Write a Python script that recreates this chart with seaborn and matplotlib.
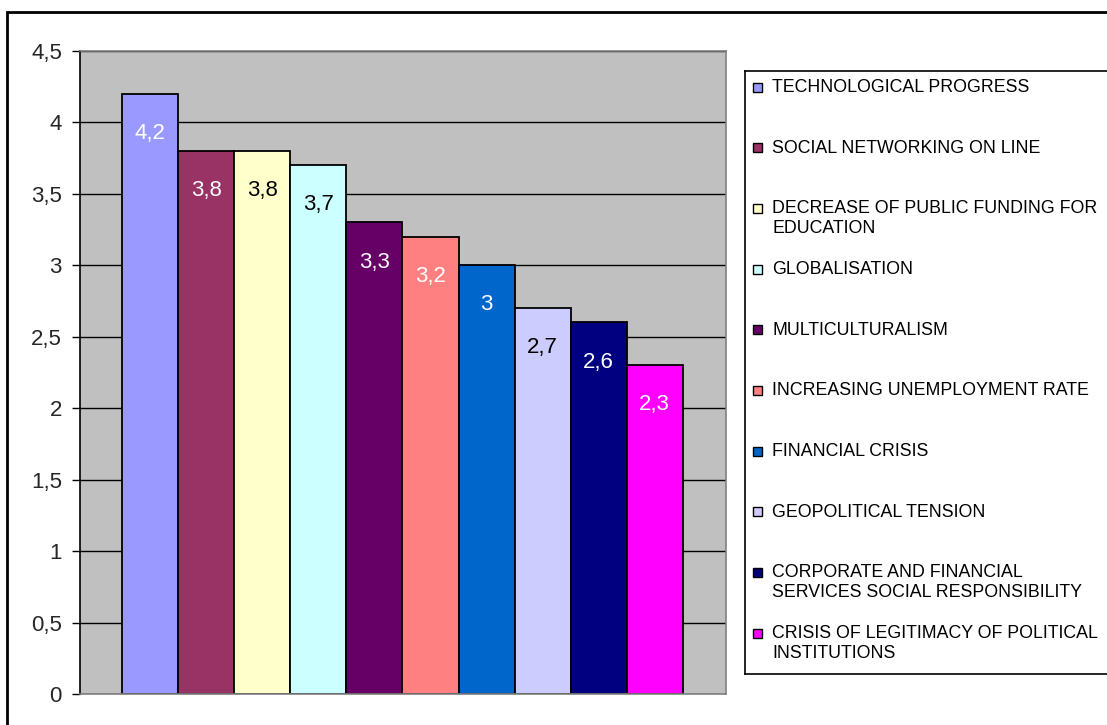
import matplotlib
matplotlib.use("Agg")
import matplotlib.pyplot as plt
import matplotlib.patches as mpatches
import seaborn as sns

# chart data
categories = [
    "TECHNOLOGICAL PROGRESS",
    "SOCIAL NETWORKING ON LINE",
    "DECREASE OF PUBLIC FUNDING FOR\nEDUCATION",
    "GLOBALISATION",
    "MULTICULTURALISM",
    "INCREASING UNEMPLOYMENT RATE",
    "FINANCIAL CRISIS",
    "GEOPOLITICAL TENSION",
    "CORPORATE AND FINANCIAL\nSERVICES SOCIAL RESPONSIBILITY",
    "CRISIS OF LEGITIMACY OF POLITICAL\nINSTITUTIONS",
]
values = [4.2, 3.8, 3.8, 3.7, 3.3, 3.2, 3.0, 2.7, 2.6, 2.3]
colors = ["#9999FF", "#993366", "#FFFFCC", "#CCFFFF", "#660066",
          "#FF8080", "#0066CC", "#CCCCFF", "#000080", "#FF00FF"]
label_colors = ["white", "white", "black", "black", "white",
                "white", "white", "black", "white", "white"]
yticks = [0, 0.5, 1, 1.5, 2, 2.5, 3, 3.5, 4, 4.5]

sns.set_style("white")
plt.rcParams["font.family"] = ["Liberation Sans", "DejaVu Sans"]

W, H = 1107, 725
fig = plt.figure(figsize=(W / 100, H / 100), dpi=100)
ax = fig.add_axes([80 / W, 1 - 694 / H, (726 - 80) / W, (694 - 51) / H])

sns.barplot(x=categories, y=values, hue=categories, order=categories,
            hue_order=categories, palette=colors, dodge=False, width=1,
            edgecolor="black", linewidth=1.3, legend=False, saturation=1, ax=ax)

ax.set_facecolor("#C0C0C0")
ax.set_xlim(-1.25, 10.27)
ax.set_ylim(0, 4.5)
ax.set_yticks(yticks)
ax.set_yticklabels([f"{t:g}".replace(".", ",") for t in yticks], fontsize=16)
ax.set_xticks([])
ax.set_xlabel("")
ax.set_ylabel("")
ax.tick_params(axis="y", left=True, length=6, width=1, pad=7, color="black")
ax.yaxis.grid(True, color="black", linewidth=1)
ax.set_axisbelow(True)
for side, sp in ax.spines.items():
    sp.set_visible(True)
    sp.set_color("#808080")
    sp.set_linewidth(1.2)
ax.spines["left"].set_color("black")

# value labels inside the bars
for patch, v, c in zip(ax.patches, values, label_colors):
    ax.annotate(f"{v:g}".replace(".", ","),
                (patch.get_x() + patch.get_width() / 2, patch.get_height()),
                xytext=(0, -28.5), textcoords="offset points",
                ha="center", va="center", fontsize=16, color=c)

# legend box on the right
lx0, ly0, ly1 = 745, 71, 674
lax = fig.add_axes([lx0 / W, 1 - ly1 / H, (W + 10 - lx0) / W, (ly1 - ly0) / H])
lax.set_xlim(0, W + 10 - lx0)
lax.set_ylim(ly1 - ly0, 0)
lax.set_xticks([])
lax.set_yticks([])
for sp in lax.spines.values():
    sp.set_color("black")
    sp.set_linewidth(1.2)
step = (633 - 87) / 9
for i, (cat, col) in enumerate(zip(categories, colors)):
    yc = 87 - ly0 + i * step
    lax.add_patch(mpatches.Rectangle((8, yc - 4.5), 9, 9, facecolor=col,
                                     edgecolor="black", linewidth=1))
    lax.text(27, yc - 8, cat, ha="left", va="top", fontsize=12.8,
             linespacing=1.2, color="black")

# outer chart border
fig.add_artist(mpatches.Rectangle((7 / W, -0.1), 2, 1 - 12 / H + 0.1,
                                  transform=fig.transFigure, fill=False,
                                  edgecolor="black", linewidth=2))

fig.savefig("out.png", dpi=100)
